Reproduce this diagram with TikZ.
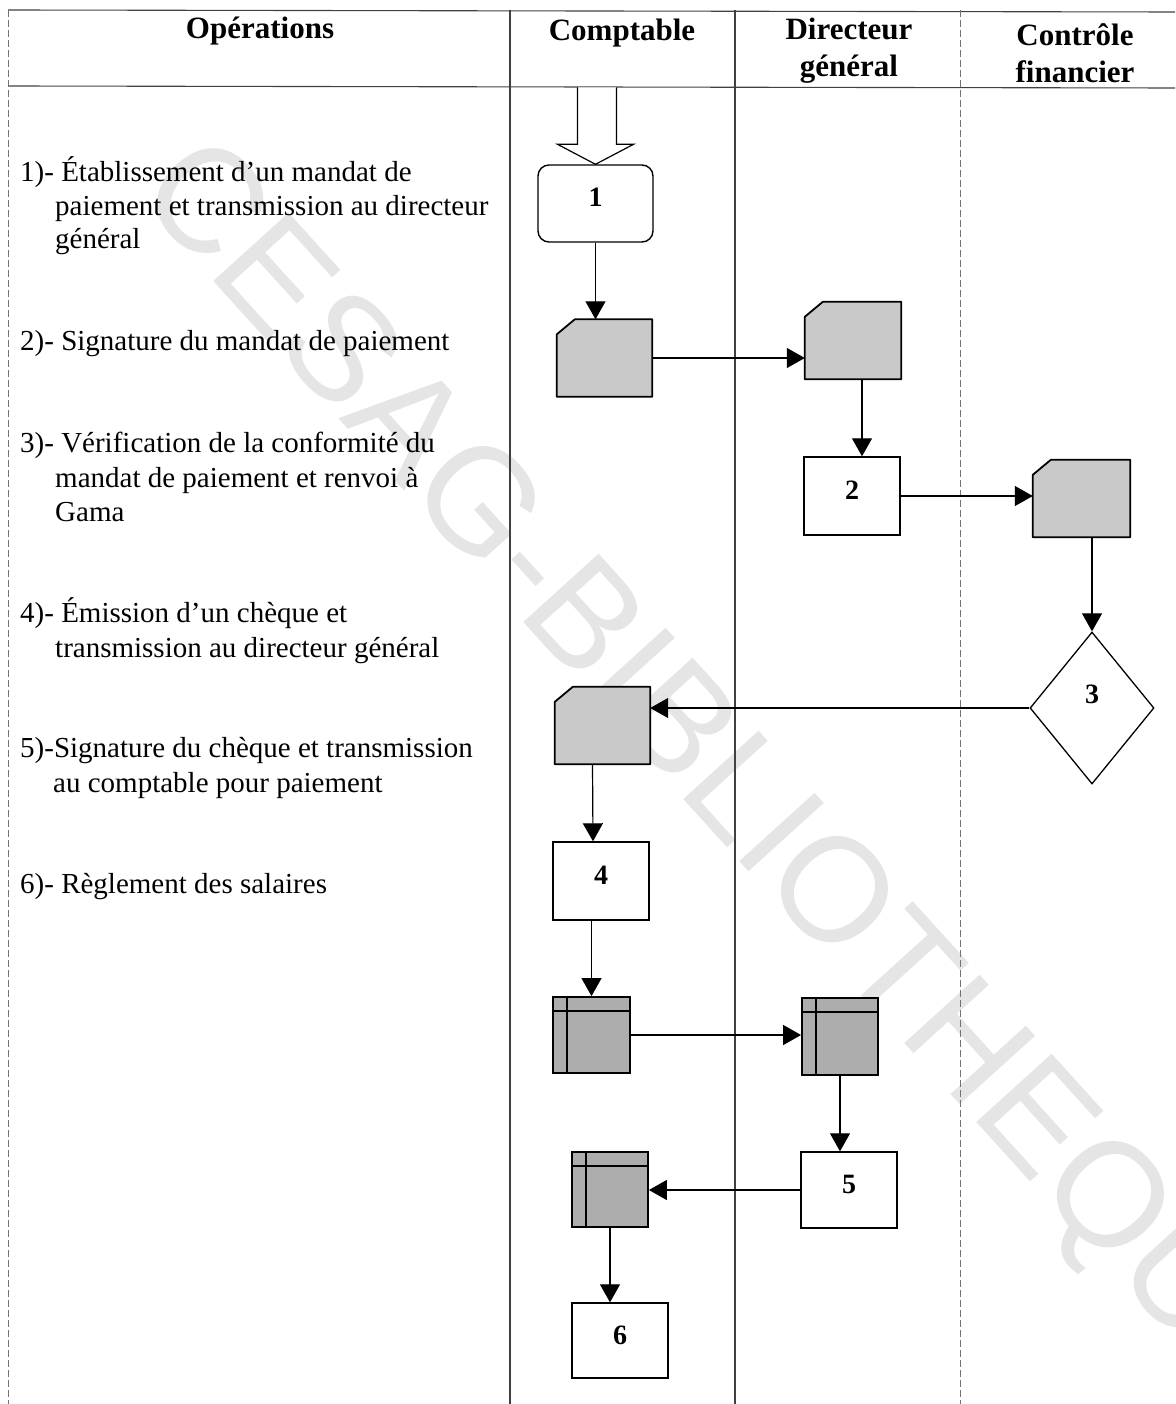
\documentclass[tikz,border=0pt]{standalone}
\usepackage{fontspec}
\setmainfont{Liberation Serif}
\newfontfamily\wmfont{Liberation Sans}
\usetikzlibrary{arrows.meta,shapes.geometric,calc}

% document symbol with a cut upper-left corner, drawn over a named node
\newcommand\docfold[1]{%
  \filldraw[docfill] (#1.south west) -- ($(#1.north west)+(0,15)$)
    -- ($(#1.north west)+(18,0)$) -- (#1.north east) -- (#1.south east) -- cycle;}
% card symbol: shaded box with a header strip and a left margin strip
\newcommand\cardlines[1]{%
  \draw[cardline] ($(#1.north west)+(0,15)$) -- ($(#1.north east)+(0,15)$);
  \draw[cardline] ($(#1.north west)+(15,0)$) -- ($(#1.south west)+(15,0)$);}

\begin{document}
\begin{tikzpicture}[x=1pt,y=-1pt,
  gridline/.style={line width=1.1pt,black!75},
  gridlight/.style={line width=0.9pt,black!55,dash pattern=on 7pt off 3pt},
  head/.style={font=\fontsize{31}{37}\selectfont\bfseries,align=center,inner sep=0pt},
  op/.style={font=\fontsize{29}{34}\selectfont,anchor=base west,inner sep=0pt},
  flow/.style={line width=1.2pt,-{Triangle[length=18pt,width=20pt]}},
  stepbox/.style={draw,line width=1.4pt,minimum width=96pt,minimum height=77pt,inner sep=0pt,
    font=\fontsize{28}{30}\selectfont\bfseries,text height=19pt,text depth=12pt},
  startbox/.style={stepbox,minimum width=115pt,rounded corners=11pt},
  decision/.style={diamond,draw,line width=1.3pt,minimum width=124pt,minimum height=152pt,inner sep=0pt,
    font=\fontsize{28}{30}\selectfont\bfseries,text height=19pt,text depth=28pt},
  docnode/.style={minimum width=95pt,minimum height=77pt,inner sep=0pt},
  docfill/.style={fill=black!21,draw=black,line width=1.8pt,line join=round},
  cardnode/.style={draw,fill=black!32,line width=1.8pt,minimum width=77pt,minimum height=76pt,inner sep=0pt},
  cardline/.style={line width=1.8pt},
  entry/.style={draw,fill=white,line width=1.2pt,line join=miter}
]
\useasboundingbox (0,0) rectangle (1175,1404);

% watermark
\begin{scope}
  \clip (0,0) rectangle (1175,1404);
  \node[anchor=west,rotate=-47.8,inner sep=0pt,text=black!10,
        font=\wmfont\fontsize{148}{148}\selectfont] (wm) at (162,168) {CESAG-BIBLIOTHEQUE};
\end{scope}

% table frame
\draw[gridline] (8,10) -- (1175,12);
\draw[gridline] (8,86) -- (1175,88);
\draw[gridlight] (8,10) -- (8,1404);
\draw[gridline] (510,10) -- (510,1404);
\draw[gridline] (735,10) -- (735,1404);
\draw[gridlight] (960,10) -- (960,1404);

% column headers
\node[head] (hop) at (260,31) {Opérations};
\node[head] (hcp) at (622,33) {Comptable};
\node[head] (hdg) at (849,51) {Directeur\\général};
\node[head] (hcf) at (1075,53) {Contrôle\\financier};

% list of operations
\node[op] (o1a) at (20,182) {1)- Établissement d’un mandat de};
\node[op] (o1b) at (55,216) {paiement et transmission au directeur};
\node[op] (o1c) at (55,249) {général};
\node[op] (o2)  at (20,350) {2)- Signature du mandat de paiement};
\node[op] (o3a) at (20,452) {3)- Vérification de la conformité du};
\node[op] (o3b) at (55,487) {mandat de paiement et renvoi à};
\node[op] (o3c) at (55,521) {Gama};
\node[op] (o4a) at (20,622) {4)- Émission d’un chèque et};
\node[op] (o4b) at (55,657) {transmission au directeur général};
\node[op] (o5a) at (20,757) {5)-Signature du chèque et transmission};
\node[op] (o5b) at (53,792) {au comptable pour paiement};
\node[op] (o6)  at (20,893) {6)- Règlement des salaires};

% flow symbols
\node[startbox] (b1) at (595.5,203.5) {1};
\node[docnode] (d1) at (604.5,358) {};
\node[docnode,minimum width=96pt] (d2) at (853,340.5) {};
\node[stepbox,minimum height=78pt] (b2) at (852,496) {2};
\node[docnode,minimum width=97pt] (d3) at (1081.5,498.5) {};
\node[decision] (dia) at (1092,708) {3};
\node[docnode] (d4) at (602.5,725.5) {};
\node[stepbox,minimum height=78pt] (b4) at (601,881) {4};
\node[cardnode] (c1) at (591.5,1035) {};
\node[cardnode,minimum width=76pt,minimum height=77pt] (c2) at (840,1036.5) {};
\node[stepbox,minimum height=76pt] (b5) at (849,1190) {5};
\node[cardnode,minimum width=76pt,minimum height=75pt] (c3) at (610,1189.5) {};
\node[stepbox,minimum height=75pt] (b6) at (620,1340.5) {6};

\docfold{d1}\docfold{d2}\docfold{d3}\docfold{d4}
\cardlines{c1}\cardlines{c2}\cardlines{c3}

% hollow entry arrow into the first step
\draw[entry] ($(b1.north)+(-18,-77)$) -- ($(b1.north)+(-18,-20)$) -- ($(b1.north)+(-38,-20)$)
  -- (b1.north) -- ($(b1.north)+(38,-20)$) -- ($(b1.north)+(21,-20)$)
  -- ($(b1.north)+(21,-77)$);

% connectors
\draw[flow] (b1.south) -- (b1.south |- d1.north);
\draw[flow] (d1.east) -- (d1.east -| d2.west);
\draw[flow] ($(d2.south)+(9,0)$) -- ($(b2.north)+(10,0)$);
\draw[flow] (b2.east) -- (b2.east -| d3.west);
\draw[flow] (dia.north |- d3.south) -- (dia.north);
\draw[flow] (dia.west) -- (dia.west -| d4.east);
\draw[flow] ($(d4.south)+(-10,0)$) -- ($(b4.north)+(-8,0)$);
\draw[flow] (c1.north |- b4.south) -- (c1.north);
\draw[flow] (c1.east) -- (c1.east -| c2.west);
\draw[flow] (c2.south) -- (c2.south |- b5.north);
\draw[flow] (b5.west) -- (b5.west -| c3.east);
\draw[flow] (c3.south) -- (c3.south |- b6.north);
\end{tikzpicture}
\end{document}
